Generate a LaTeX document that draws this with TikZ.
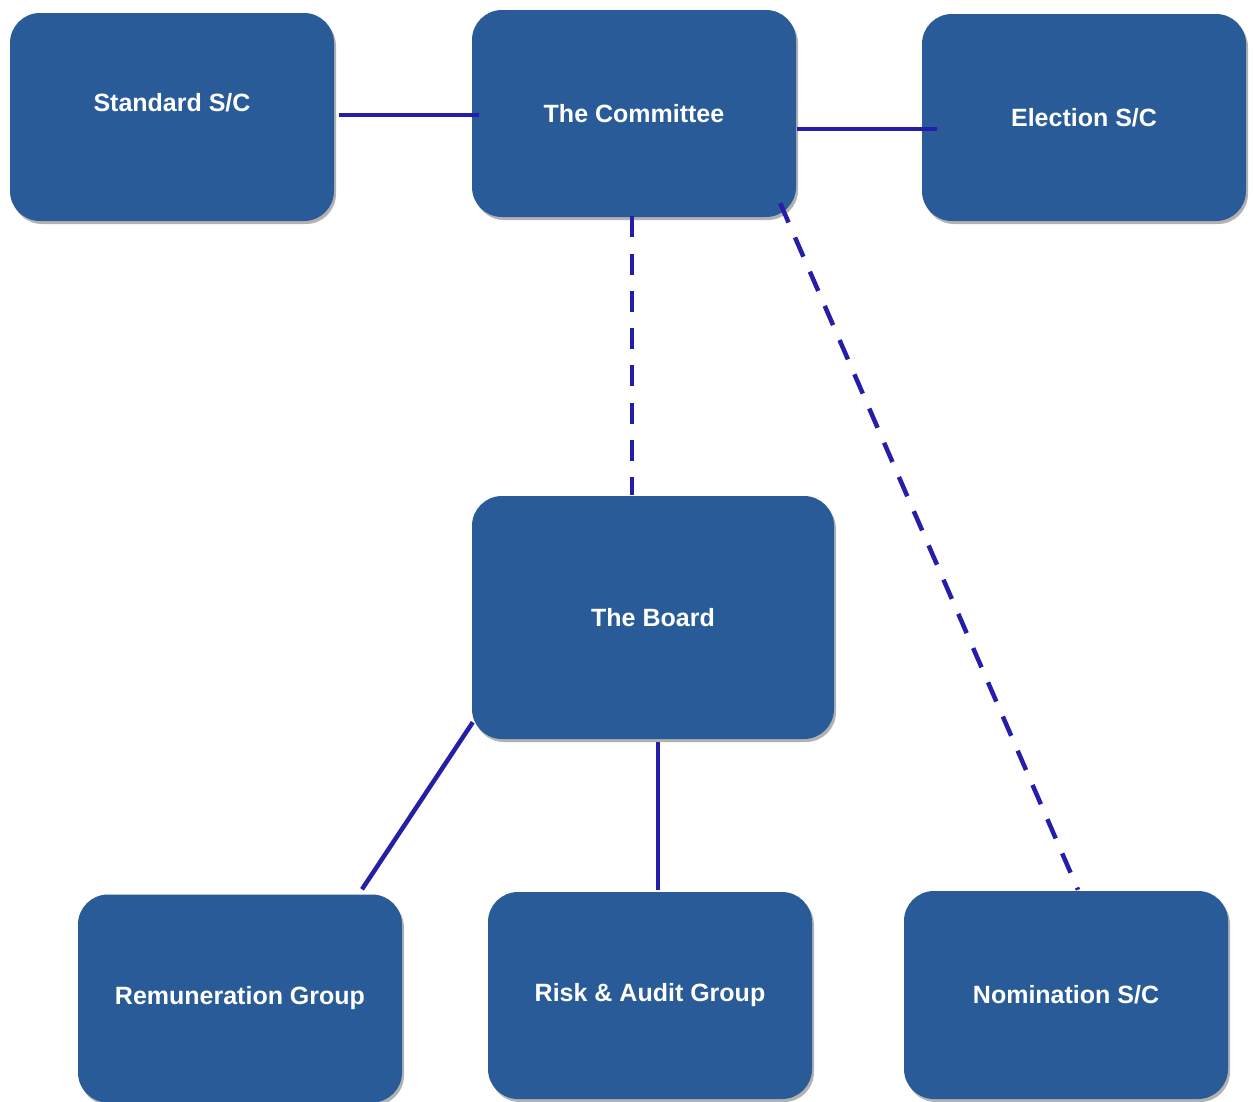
\documentclass[tikz,border=0pt]{standalone}
\usepackage{fontspec}
\setmainfont{Liberation Sans}
\usetikzlibrary{calc,shadows}
\definecolor{boxblue}{HTML}{285B98}
\definecolor{linkblue}{HTML}{261DA8}
\tikzset{
  orgbox/.style={draw=none, fill=boxblue, rounded corners=30pt, inner sep=0pt,
    minimum width=324pt, minimum height=208pt, text=white,
    font=\fontsize{25}{30}\selectfont\bfseries,
    drop shadow={shadow xshift=2pt, shadow yshift=-3pt, fill=black, opacity=0.3}},
  conn/.style={draw=linkblue, line width=4.5pt},
  dashconn/.style={conn, dash pattern=on 21pt off 16.3pt},
}
\begin{document}
\begin{tikzpicture}[x=1pt,y=-1pt]
\useasboundingbox (0,0) rectangle (1255,1101);
\node[orgbox, label={[text=white, font=\fontsize{25}{30}\selectfont\bfseries, yshift=14pt]center:Standard S/C}] (std) at (172,117) {};
\node[orgbox, minimum height=207pt] (com) at (634,113.5) {The Committee};
\node[orgbox, minimum height=207pt] (ele) at (1084,117.5) {Election S/C};
\node[orgbox, minimum width=362pt, minimum height=243pt] (brd) at (653,617.5) {The Board};
\node[orgbox] (rem) at (240,998.5) {Remuneration Group};
\node[orgbox, minimum height=207pt] (rsk) at (650,995.5) {Risk \& Audit Group};
\node[orgbox] (nom) at (1066,995) {Nomination S/C};

\draw[conn] ($(std.east)+(5,-2)$) -- ($(com.west)+(7,1.5)$);
\draw[conn] ($(com.east)+(1,15.5)$) -- ($(ele.west)+(15,11.5)$);
\draw[dashconn] ($(com.south)+(-2,-1)$) -- ($(brd.north)+(-21,-1)$);
\draw[dashconn] ($(com.south east)+(-16,-14)$) -- ($(nom.north)+(12,-1)$);
\draw[conn] ($(brd.south west)+(1,-17)$) -- ($(rem.north)+(122,-5)$);
\draw[conn] ($(brd.south)+(5,3)$) -- ($(rsk.north)+(8,-2)$);
\end{tikzpicture}
\end{document}
